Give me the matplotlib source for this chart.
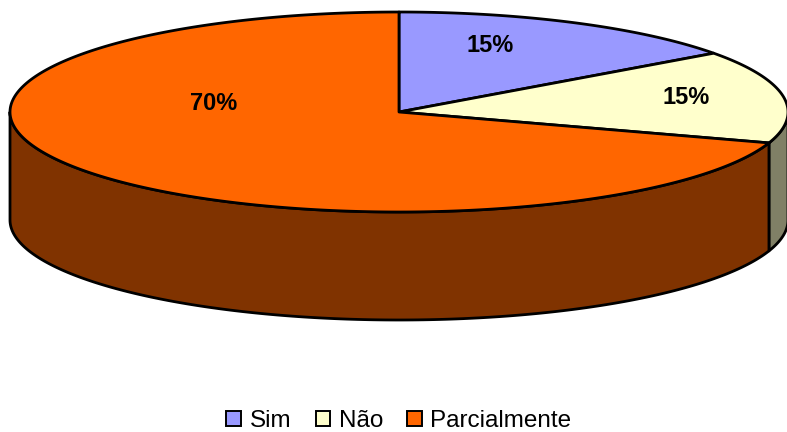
import numpy as np
import matplotlib
matplotlib.use("Agg")
import matplotlib.pyplot as plt
from matplotlib.patches import Polygon, Patch

# Survey answer shares (percent)
categories = ["Sim", "Não", "Parcialmente"]
shares = [15, 15, 70]
top_colors = ["#9999FF", "#FFFFCC", "#FF6600"]
side_colors = ["#4D4D80", "#808066", "#803300"]

# Layout of the tilted pie, in pixel units
W, H = 787, 432
cx, cy = 399, 112
rx, ry = 389, 100
depth = 108
start_deg = 90.0           # first slice starts at 12 o'clock, goes clockwise
label_pos = [(490, 46), (686, 98), (214, 104)]

plt.rcParams["font.family"] = ["Liberation Sans", "DejaVu Sans"]

fig = plt.figure(figsize=(W / 100, H / 100), dpi=100)
ax = fig.add_axes([0, 0, 1, 1])
ax.set_xlim(0, W)
ax.set_ylim(H, 0)
ax.axis("off")


def rim(t, dz=0.0):
    t = np.radians(t)
    return cx + rx * np.cos(t), cy - ry * np.sin(t) + dz


total = float(sum(shares))
bounds = []
a = start_deg
for s in shares:
    b = a - 360.0 * s / total
    bounds.append((a, b))
    a = b

edge_kw = dict(edgecolor="black", linewidth=2.0, joinstyle="round")

# Outer side walls: only the front half (angles between 180 and 360 deg) is visible
for (a0, a1), col in zip(bounds, side_colors):
    lo, hi = min(a0, a1), max(a0, a1)
    segs = []
    for shift in (-720, -360, 0, 360):
        l, h = lo + shift, hi + shift
        l2, h2 = max(l, -180), min(h, 0)
        if h2 > l2:
            segs.append((l2, h2))
    for l2, h2 in segs:
        t = np.linspace(l2, h2, 200)
        xt, yt = rim(t)
        xb, yb = rim(t[::-1], depth)
        pts = np.column_stack([np.r_[xt, xb], np.r_[yt, yb]])
        ax.add_patch(Polygon(pts, closed=True, facecolor=col, **edge_kw, zorder=1))

# Top faces of the slices
for (a0, a1), col in zip(bounds, top_colors):
    t = np.linspace(a0, a1, 300)
    xt, yt = rim(t)
    pts = np.column_stack([np.r_[cx, xt], np.r_[cy, yt]])
    ax.add_patch(Polygon(pts, closed=True, facecolor=col, **edge_kw, zorder=2))

# Percentage labels
for s, (lx, ly) in zip(shares, label_pos):
    ax.text(lx, ly, f"{s}%", ha="center", va="center", fontsize=17,
            fontweight="bold", color="black", zorder=3)

handles = [Patch(facecolor=c, edgecolor="black", linewidth=1.4) for c in top_colors]
fig.legend(handles, categories, loc="center", bbox_to_anchor=(399 / W, 1 - 421 / H),
           ncol=3, frameon=False, fontsize=17.5, handlelength=0.6, handleheight=0.6,
           handletextpad=0.35, columnspacing=1.0)

fig.savefig("out.png", dpi=100)
